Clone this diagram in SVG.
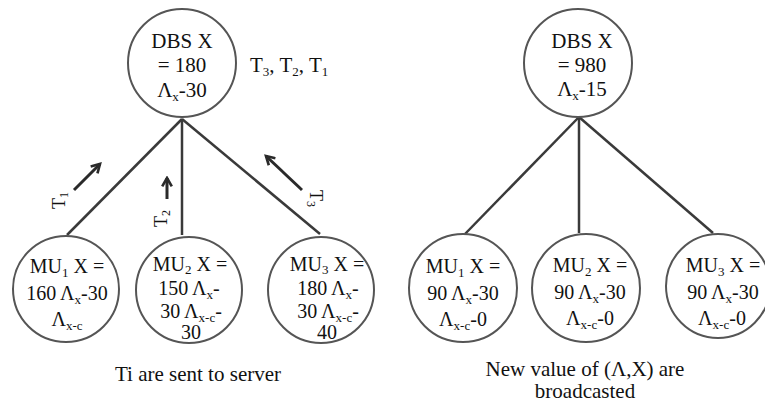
<svg xmlns="http://www.w3.org/2000/svg" width="765" height="405" viewBox="0 0 765 405" font-family="'Liberation Serif', 'Tinos', 'Times New Roman', 'DejaVu Serif', serif">
<style>
.bg{fill:#fff}
.node circle{fill:#fff;stroke:#555;stroke-width:2}
text{font-family:'Liberation Serif','Tinos','Times New Roman','DejaVu Serif',serif;font-size:21px;fill:#111}
.c{text-anchor:middle}
.m{font-size:20px}
.sub{font-size:13px}
.lbl{font-size:18px}
.edge{stroke:#3a3a3a;stroke-width:2.5;fill:none}
.arr{stroke:#2a2a2a;stroke-width:3;fill:none;marker-end:url(#ah)}
</style>
<defs>
<marker id="ah" viewBox="0 0 10 10" refX="8" refY="5" markerWidth="4" markerHeight="4" orient="auto" markerUnits="strokeWidth">
<path d="M1,1 L8,5 L1,9" fill="none" stroke="#2a2a2a" stroke-width="2.2"/>
</marker>
</defs>
<rect class="bg" x="0" y="0" width="765" height="405"/>
<g id="connectors">
<line class="edge" x1="182" y1="119" x2="67" y2="235"/>
<line class="edge" x1="182" y1="119" x2="182" y2="235"/>
<line class="edge" x1="182" y1="119" x2="320" y2="234"/>
<line class="edge" x1="579" y1="117" x2="465" y2="234"/>
<line class="edge" x1="579" y1="117" x2="579" y2="233"/>
<line class="edge" x1="579" y1="117" x2="713" y2="233"/>
<line class="arr" x1="74" y1="190" x2="100" y2="164"/>
<line class="arr" x1="167" y1="199" x2="167" y2="178"/>
<line class="arr" x1="302" y1="190" x2="266" y2="156"/>
</g>
<g id="edge-labels">
<text class="lbl" transform="translate(65,209) rotate(-90)">T<tspan font-size="12" dy="3">1</tspan></text>
<text class="lbl" transform="translate(167,227) rotate(-90)">T<tspan font-size="12" dy="3">2</tspan></text>
<text class="lbl" transform="translate(310,190) rotate(90)">T<tspan font-size="12" dy="3">3</tspan></text>
</g>
<g id="dbs-left" class="node">
<circle cx="182" cy="63" r="54"/>
<text class="c" x="182" y="48">DBS X</text>
<text class="c" x="182" y="72">= 180</text>
<text class="c" x="182" y="97">Λ<tspan class="sub" dy="4">x</tspan><tspan dy="-4">-30</tspan></text>
</g>
<g id="queue-label">
<text x="250" y="72">T<tspan class="sub" dy="4">3</tspan><tspan dy="-4">, T</tspan><tspan class="sub" dy="4">2</tspan><tspan dy="-4">, T</tspan><tspan class="sub" dy="4">1</tspan></text>
</g>
<g id="mu1-left" class="node">
<circle cx="66" cy="289" r="53"/>
<text class="c m" x="67" y="273">MU<tspan class="sub" dy="4">1</tspan><tspan dy="-4"> X =</tspan></text>
<text class="c m" x="67" y="300">160 Λ<tspan class="sub" dy="4">x</tspan><tspan dy="-4">-30</tspan></text>
<text class="c m" x="67" y="326">Λ<tspan class="sub" dy="4">x-c</tspan></text>
</g>
<g id="mu2-left" class="node">
<circle cx="189" cy="290" r="53"/>
<text class="c m" x="190" y="271">MU<tspan class="sub" dy="3">2</tspan><tspan dy="-3"> X =</tspan></text>
<text class="c m" x="189" y="295">150 Λ<tspan class="sub" dy="4">x</tspan><tspan dy="-4">-</tspan></text>
<text class="c m" x="191" y="318">30 Λ<tspan class="sub" dy="4">x-c</tspan><tspan dy="-4">-</tspan></text>
<text class="c m" x="191" y="339">30</text>
</g>
<g id="mu3-left" class="node">
<circle cx="321" cy="290" r="53"/>
<text class="c m" x="327" y="271">MU<tspan class="sub" dy="3">3</tspan><tspan dy="-3"> X =</tspan></text>
<text class="c m" x="328" y="295">180 Λ<tspan class="sub" dy="4">x</tspan><tspan dy="-4">-</tspan></text>
<text class="c m" x="328" y="318">30 Λ<tspan class="sub" dy="4">x-c</tspan><tspan dy="-4">-</tspan></text>
<text class="c m" x="327" y="339">40</text>
</g>
<g id="caption-left">
<text class="c" x="198" y="381">Ti are sent to server</text>
</g>
<g id="dbs-right" class="node">
<circle cx="578" cy="63" r="54"/>
<text class="c" x="582" y="48">DBS X</text>
<text class="c" x="582" y="72">= 980</text>
<text class="c" x="582" y="96">Λ<tspan class="sub" dy="4">x</tspan><tspan dy="-4">-15</tspan></text>
</g>
<g id="mu1-right" class="node">
<circle cx="463" cy="288" r="54"/>
<text class="c m" x="463" y="273">MU<tspan class="sub" dy="4">1</tspan><tspan dy="-4"> X =</tspan></text>
<text class="c m" x="463" y="300">90 Λ<tspan class="sub" dy="4">x</tspan><tspan dy="-4">-30</tspan></text>
<text class="c m" x="463" y="326">Λ<tspan class="sub" dy="4">x-c</tspan><tspan dy="-4">-0</tspan></text>
</g>
<g id="mu2-right" class="node">
<circle cx="586" cy="288" r="54"/>
<text class="c m" x="590" y="272">MU<tspan class="sub" dy="4">2</tspan><tspan dy="-4"> X =</tspan></text>
<text class="c m" x="590" y="299">90 Λ<tspan class="sub" dy="4">x</tspan><tspan dy="-4">-30</tspan></text>
<text class="c m" x="590" y="325">Λ<tspan class="sub" dy="4">x-c</tspan><tspan dy="-4">-0</tspan></text>
</g>
<g id="mu3-right" class="node">
<circle cx="718" cy="286" r="52"/>
<text class="c m" x="723" y="272">MU<tspan class="sub" dy="4">3</tspan><tspan dy="-4"> X =</tspan></text>
<text class="c m" x="723" y="299">90 Λ<tspan class="sub" dy="4">x</tspan><tspan dy="-4">-30</tspan></text>
<text class="c m" x="722" y="325">Λ<tspan class="sub" dy="4">x-c</tspan><tspan dy="-4">-0</tspan></text>
</g>
<g id="caption-right">
<text class="c" x="585" y="376">New value of (Λ,X) are</text>
<text class="c" x="585" y="398">broadcasted</text>
</g>
</svg>
